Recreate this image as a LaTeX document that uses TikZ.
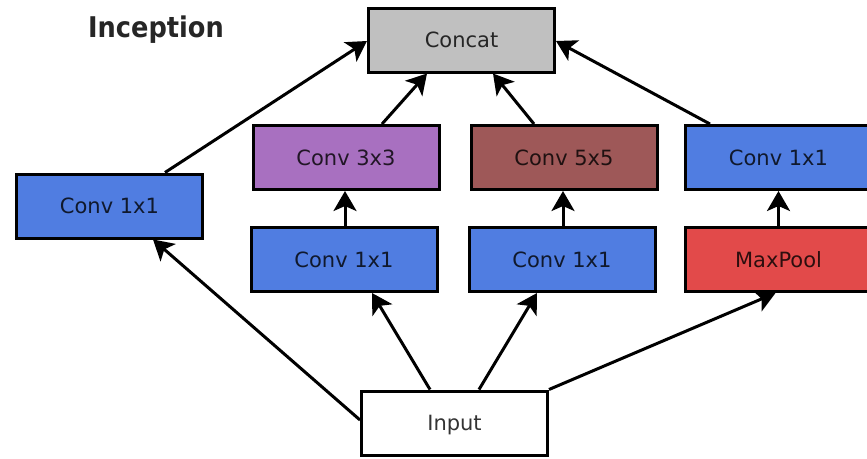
\documentclass[tikz,border=0pt]{standalone}
\usepackage{fontspec}
\setmainfont{DejaVu Sans}
\newfontfamily\titlefont{DejaVu Sans Condensed}
\usetikzlibrary{arrows.meta}
\definecolor{cgray}{RGB}{192,192,192}
\definecolor{cblue}{RGB}{80,125,225}
\definecolor{cpurple}{RGB}{168,112,192}
\definecolor{cbrown}{RGB}{158,88,88}
\definecolor{cred}{RGB}{226,74,74}
\tikzset{
  layer/.style={draw=black, line width=3pt, minimum width=186pt, minimum height=64pt,
    inner sep=0pt, text=black, text opacity=0.8, text height=15.3pt, text depth=0pt,
    font=\fontsize{21}{25}\selectfont},
  conn/.style={line width=3pt, -{Stealth[length=20pt,width=23pt,inset=5pt]}},
}
\begin{document}
\begin{tikzpicture}[x=1pt,y=-1pt]
\useasboundingbox (0,0) rectangle (867,458);
\fill[white] (0,0) rectangle (867,458);
\node[anchor=base, font=\titlefont\bfseries\fontsize{28.5}{32}\selectfont, text=black!85] (title) at (156,37) {Inception};
\node[layer, fill=cgray] (concat) at (461.5,40) {Concat};
\node[layer, fill=cblue] (lc) at (109.5,206) {Conv 1x1};
\node[layer, fill=cpurple] (c33) at (346,157.5) {Conv 3x3};
\node[layer, fill=cbrown] (c55) at (564,157.5) {Conv 5x5};
\node[layer, fill=cblue] (rc) at (778.5,157.5) {Conv 1x1};
\node[layer, fill=cblue] (m1) at (344,259.5) {Conv 1x1};
\node[layer, fill=cblue] (m2) at (562,259.5) {Conv 1x1};
\node[layer, fill=cred] (mp) at (778.5,259.5) {MaxPool};
\node[layer, fill=white] (in) at (454.5,423) {Input};
% from input
\draw[conn] ([yshift=3pt]in.west) -- ([xshift=43.5pt]lc.south);
\draw[conn] ([xshift=-24.5pt]in.north) -- ([xshift=28pt]m1.south);
\draw[conn] ([xshift=24.5pt]in.north) -- ([xshift=-25pt]m2.south);
\draw[conn] (in.north east) -- ([xshift=-3pt]mp.south);
% vertical
\draw[conn] ([xshift=1pt]m1.north) -- ([xshift=-1pt]c33.south);
\draw[conn] ([xshift=1pt]m2.north) -- ([xshift=-1pt]c55.south);
\draw[conn] (mp.north) -- (rc.south);
% to concat
\draw[conn] ([xshift=55.5pt]lc.north) -- ([yshift=-1pt]concat.west);
\draw[conn] ([xshift=36pt]c33.north) -- ([xshift=-34.5pt]concat.south);
\draw[conn] ([xshift=-30pt]c55.north) -- ([xshift=31.5pt]concat.south);
\draw[conn] ([xshift=-68.5pt]rc.north) -- ([yshift=-1pt]concat.east);
\end{tikzpicture}
\end{document}
